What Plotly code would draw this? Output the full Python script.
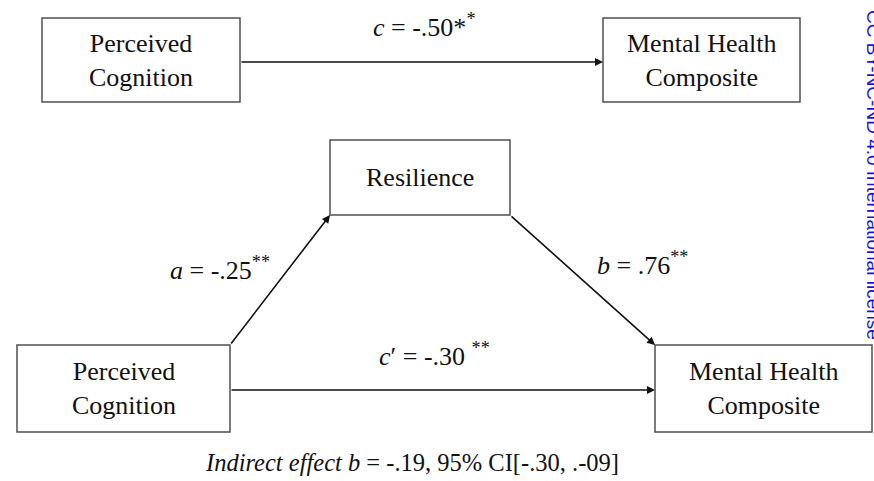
import plotly.graph_objects as go

# ---- data ----
node_names = ["Perceived<br>Cognition", "Mental Health<br>Composite", "Resilience",
              "Perceived<br>Cognition", "Mental Health<br>Composite"]
path_names = ["c", "a", "b", "c′"]
path_coefs = [-.50, -.25, .76, -.30]
path_sig = ["**", "**", "**", "**"]
indirect_b = -.19
ci_text = ["-.30", ".-09"]
license_text = "CC BY-NC-ND 4.0 International license"

# ---- layout geometry (pixels) ----
W, H = 874, 481
boxes = [(42, 240, 18, 102), (603, 800, 18, 102), (330, 510, 140, 215),
         (17, 230, 345, 432), (655, 872, 345, 432)]
FONT = "Liberation Serif, Times New Roman, serif"

fig = go.Figure()
fig.add_trace(go.Scatter(x=[0, W], y=[0, H], mode="markers",
                         marker=dict(opacity=0), hoverinfo="skip", showlegend=False))

shapes = []
annos = []
for (x0, x1, y0, y1), name in zip(boxes, node_names):
    shapes.append(dict(type="rect", xref="x", yref="y", x0=x0, x1=x1, y0=y0, y1=y1,
                       line=dict(color="#505050", width=1.5), fillcolor="rgba(0,0,0,0)"))
    annos.append(dict(x=(x0 + x1) / 2, y=(y0 + y1) / 2, xref="x", yref="y", text=name,
                      showarrow=False, font=dict(family=FONT, size=26, color="#111"),
                      align="center"))

# arrows: (from x,y) -> (to x,y)
arrows = [((240, 62), (603, 62)),     # c
          ((230, 345), (330, 215)),   # a
          ((510, 215), (655, 345)),   # b
          ((230, 390), (655, 390))]   # c'
for (fx, fy), (tx, ty) in arrows:
    annos.append(dict(x=tx, y=ty, ax=fx, ay=fy, xref="x", yref="y", axref="x", ayref="y",
                      text="", showarrow=True, arrowhead=2, arrowsize=1.0,
                      arrowwidth=1.6, arrowcolor="#111"))

def fmt(v):
    s = f"{v:.2f}"
    return s.replace("0.", ".")

label_pos = [(424, 25), (220, 268), (642, 263), (434, 354)]
label_texts = [
    f"<i>{path_names[0]}</i> = {fmt(path_coefs[0])}*<sup>*</sup>",
    f"<i>{path_names[1]}</i> = {fmt(path_coefs[1])}<sup>{path_sig[1]}</sup>",
    f"<i>{path_names[2]}</i> = {fmt(path_coefs[2])}<sup>{path_sig[2]}</sup>",
    f"<i>c</i>′ = {fmt(path_coefs[3])} <sup>{path_sig[3]}</sup>",
]
for (x, y), t in zip(label_pos, label_texts):
    annos.append(dict(x=x, y=y, xref="x", yref="y", text=t, showarrow=False,
                      font=dict(family=FONT, size=26, color="#111")))

annos.append(dict(x=412, y=462, xref="x", yref="y",
                  text=f"<i>Indirect effect b</i> = {fmt(indirect_b)}, 95% CI[{ci_text[0]}, {ci_text[1]}]",
                  showarrow=False, font=dict(family=FONT, size=24.5, color="#111")))

annos.append(dict(x=1.0, y=1 - 175 / H, xref="paper", yref="paper", text=license_text,
                  textangle=90, xanchor="center", yanchor="middle", showarrow=False,
                  font=dict(family="Liberation Sans, Arial, sans-serif",
                            size=19, color="#1414e6")))

fig.update_layout(
    width=W, height=H, margin=dict(l=0, r=0, t=0, b=0),
    paper_bgcolor="white", plot_bgcolor="white",
    xaxis=dict(range=[0, W], visible=False, fixedrange=True),
    yaxis=dict(range=[H, 0], visible=False, fixedrange=True),
    shapes=shapes, annotations=annos, showlegend=False,
)
fig.write_html("out.html", config={"displayModeBar": False},
               post_script="document.body.style.margin='0';document.body.style.overflow='hidden';")
